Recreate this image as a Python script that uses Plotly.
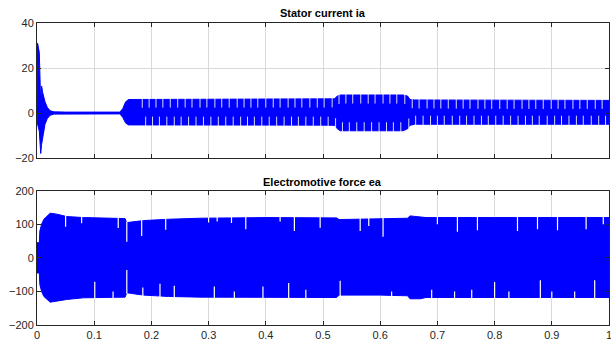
import numpy as np
import plotly.graph_objects as go

# ---- data (signal envelopes) ----
ia_t     = [0.0, 0.001, 0.004, 0.0055, 0.0065, 0.008, 0.010, 0.014, 0.018, 0.023, 0.030, 0.050, 0.100, 0.145, 0.150, 0.155, 0.160, 0.165, 0.200, 0.300, 0.400, 0.500, 0.520, 0.525, 0.530, 0.600, 0.640, 0.648, 0.652, 0.660, 0.700, 0.800, 0.900, 1.000]
ia_upper = [0.0, 31.0, 27.0, 8.0, 4.0, 12.0, 9.0, 5.0, 2.5, 1.0, 0.5, 0.4, 0.4, 0.4, 2.0, 5.0, 6.0, 6.0, 6.2, 6.2, 6.2, 6.2, 6.3, 7.5, 8.0, 8.0, 8.0, 7.5, 6.0, 5.8, 5.8, 5.6, 5.6, 5.6]
ia_lower = [0.0, -5.0, -8.0, -12.0, -18.0, -14.0, -10.0, -5.0, -2.5, -1.0, -0.5, -0.4, -0.4, -0.4, -2.0, -4.5, -5.3, -5.4, -5.4, -5.4, -5.4, -5.4, -5.5, -7.0, -7.9, -7.9, -7.9, -7.0, -5.5, -5.0, -5.0, -5.0, -5.0, -5.0]

# white notches of the beat pattern in the current band (times)
ia_notch_top_t = [0.184, 0.196, 0.208, 0.220, 0.233, 0.246, 0.259, 0.271, 0.285, 0.297, 0.311, 0.323, 0.336, 0.350, 0.362, 0.374, 0.386, 0.400, 0.413, 0.425, 0.439, 0.451, 0.463, 0.477, 0.490, 0.502, 0.516, 0.528, 0.540, 0.552, 0.566, 0.579, 0.591, 0.605, 0.617, 0.629, 0.643, 0.656, 0.668, 0.682, 0.694, 0.706, 0.719, 0.733, 0.745, 0.757, 0.771, 0.783, 0.795, 0.809, 0.822, 0.834, 0.848, 0.860, 0.872, 0.885, 0.899, 0.911, 0.923, 0.937, 0.949, 0.962, 0.976, 0.988]
ia_notch_bot_t = [0.190, 0.202, 0.214, 0.227, 0.240, 0.252, 0.265, 0.278, 0.291, 0.304, 0.317, 0.330, 0.343, 0.356, 0.368, 0.380, 0.393, 0.406, 0.419, 0.432, 0.445, 0.457, 0.470, 0.483, 0.496, 0.509, 0.522, 0.534, 0.546, 0.559, 0.572, 0.585, 0.598, 0.611, 0.623, 0.636, 0.650, 0.662, 0.675, 0.688, 0.700, 0.712, 0.726, 0.739, 0.751, 0.764, 0.777, 0.789, 0.802, 0.815, 0.828, 0.841, 0.854, 0.866, 0.878, 0.892, 0.905, 0.917, 0.930, 0.943, 0.955, 0.969, 0.982, 0.994]
ia_notch_depth = 3.8

ea_t     = [0.0, 0.004, 0.005, 0.008, 0.012, 0.023, 0.035, 0.052, 0.081, 0.120, 0.154, 0.157, 0.165, 0.186, 0.230, 0.285, 0.400, 0.500, 0.524, 0.528, 0.600, 0.648, 0.652, 0.670, 0.680, 0.800, 0.900, 1.000]
ea_upper = [45.0, 45.0, 80.0, 100.0, 115.0, 133.0, 130.0, 123.0, 120.0, 118.0, 117.0, 105.0, 107.0, 111.0, 115.0, 118.0, 120.0, 120.0, 119.0, 114.0, 116.0, 118.0, 125.0, 122.0, 120.0, 120.0, 120.0, 120.0]
ea_lower = [-45.0, -45.0, -80.0, -100.0, -115.0, -132.0, -130.0, -124.0, -119.0, -118.0, -117.0, -104.0, -106.0, -111.0, -115.0, -117.0, -118.0, -118.0, -118.0, -111.0, -111.0, -113.0, -122.0, -122.0, -118.0, -118.0, -118.0, -118.0]

# white notches (troughs of the beat pattern) in the EMF band: time, tip value
ea_notch_top_t   = [0.050, 0.078, 0.142, 0.157, 0.183, 0.225, 0.300, 0.315, 0.340, 0.365, 0.425, 0.450, 0.495, 0.565, 0.580, 0.605, 0.700, 0.735, 0.770, 0.840, 0.875, 0.910, 0.960, 0.990]
ea_notch_top_v   = [93, 103, 89, 48, 65, 84, 105, 108, 104, 85, 108, 80, 90, 80, 95, 63, 100, 78, 82, 80, 85, 82, 85, 100]
ea_notch_bot_t   = [0.101, 0.133, 0.157, 0.185, 0.215, 0.240, 0.310, 0.345, 0.395, 0.440, 0.470, 0.530, 0.620, 0.690, 0.730, 0.760, 0.800, 0.825, 0.880, 0.900, 0.940, 0.975]
ea_notch_bot_v   = [-71, -100, -36, -88, -77, -83, -85, -100, -85, -75, -95, -68, -100, -95, -100, -95, -72, -100, -67, -100, -100, -67]

x_ticks = [0, 0.1, 0.2, 0.3, 0.4, 0.5, 0.6, 0.7, 0.8, 0.9, 1]
x_tick_text = ["0", "0.1", "0.2", "0.3", "0.4", "0.5", "0.6", "0.7", "0.8", "0.9", "1"]
ia_ticks = [-20, 0, 20, 40]
ea_ticks = [-200, -100, 0, 100, 200]
titles = ["Stator current ia", "Electromotive force ea"]

BLUE = "#0000ff"
W, H = 611, 347


def px_x(p):
    return p / W


def px_y(p):
    return 1 - p / H


fig = go.Figure()

def band(t, up, lo, xa, ya):
    fig.add_trace(go.Scatter(x=t + t[::-1], y=up + lo[::-1], fill="toself",
                             fillcolor=BLUE, line=dict(color=BLUE, width=1),
                             mode="lines", xaxis=xa, yaxis=ya, hoverinfo="skip"))

def notches(ts, edges, tips, xa, ya, width=1.2, color="white"):
    xs, ys = [], []
    for t, e, v in zip(ts, edges, tips):
        xs += [t, t, None]
        ys += [e, v, None]
    fig.add_trace(go.Scatter(x=xs, y=ys, mode="lines", line=dict(color=color, width=width),
                             xaxis=xa, yaxis=ya, hoverinfo="skip"))

band(ia_t, ia_upper, ia_lower, "x", "y")
band(ea_t, ea_upper, ea_lower, "x2", "y2")

top_edge = np.interp(ia_notch_top_t, ia_t, ia_upper)
bot_edge = np.interp(ia_notch_bot_t, ia_t, ia_lower)
notches(ia_notch_top_t, top_edge + 0.5, top_edge - ia_notch_depth, "x", "y", width=1, color="rgba(255,255,255,0.85)")
notches(ia_notch_bot_t, bot_edge - 0.5, bot_edge + ia_notch_depth, "x", "y", width=1, color="rgba(255,255,255,0.85)")

ea_top_edge = np.interp(ea_notch_top_t, ea_t, ea_upper)
ea_bot_edge = np.interp(ea_notch_bot_t, ea_t, ea_lower)
notches(ea_notch_top_t, ea_top_edge + 3, ea_notch_top_v, "x2", "y2")
notches(ea_notch_bot_t, ea_bot_edge - 3, ea_notch_bot_v, "x2", "y2")

xd = [px_x(37), px_x(609)]
axis_common = dict(showline=True, linecolor="#262626", linewidth=1, mirror="ticks",
                   ticks="inside", ticklen=4, tickcolor="#262626", automargin=False,
                   ticklabeloverflow="allow",
                   showgrid=True, gridcolor="#d9d9d9", gridwidth=1, zeroline=False,
                   tickfont=dict(family="Liberation Sans, Arial, sans-serif", size=11, color="#262626"))

fig.update_layout(
    width=W, height=H, margin=dict(l=0, r=0, t=0, b=0),
    paper_bgcolor="white", plot_bgcolor="white", showlegend=False,
    xaxis=dict(domain=xd, range=[0, 1], tickvals=x_ticks, showticklabels=False, anchor="y", **axis_common),
    yaxis=dict(domain=[px_y(158), px_y(23)], range=[-20, 40], tickvals=ia_ticks, anchor="x", **axis_common),
    xaxis2=dict(domain=xd, range=[0, 1], tickvals=x_ticks, ticktext=x_tick_text, anchor="y2", **axis_common),
    yaxis2=dict(domain=[px_y(325), px_y(190.7)], range=[-200, 200], tickvals=ea_ticks, anchor="x2", **axis_common),
)

for title, ypx in zip(titles, [13, 182]):
    fig.add_annotation(text="<b>%s</b>" % title, x=0.5 * (xd[0] + xd[1]), y=px_y(ypx),
                       xref="paper", yref="paper", showarrow=False, xanchor="center", yanchor="middle",
                       font=dict(family="Liberation Sans, Arial, sans-serif", size=11, color="#000000"))

# place the figure at the page's top-left corner without scrollbars
fig.write_html("out.html", config={"displayModeBar": False},
               post_script="document.body.style.margin='0';document.body.style.overflow='hidden';")
